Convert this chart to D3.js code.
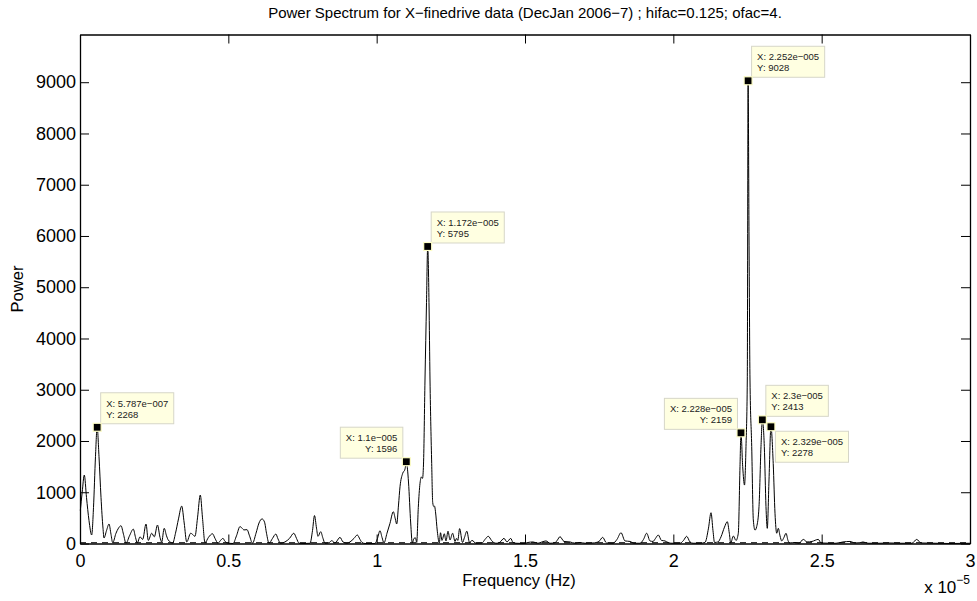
<!DOCTYPE html>
<html>
<head>
<meta charset="utf-8">
<script src="https://cdn.jsdelivr.net/npm/d3@7"></script>
<style>
  body { margin: 0; background: #fff; }
  text { font-family: "Liberation Sans", Arial, Helvetica, sans-serif; }
</style>
</head>
<body>
<svg id="chart" width="977" height="601"></svg>
<script>
// Lomb-Scargle power spectrum, frequency in units of 1e-5 Hz
const freqE5 = [
  0.001, 0.0074, 0.0145, 0.0219, 0.0303, 0.0394, 0.0455, 0.0522, 0.05787, 0.0640,
  0.0708, 0.0775, 0.0809, 0.0893, 0.0978, 0.1045, 0.1102, 0.1213, 0.1298, 0.1382,
  0.1466, 0.1551, 0.1669, 0.1797, 0.1871, 0.1931, 0.2022, 0.2113, 0.2225, 0.2302,
  0.2417, 0.2505, 0.2612, 0.2697, 0.2754, 0.2838, 0.2916, 0.2976, 0.3125, 0.3219,
  0.3320, 0.3428, 0.3512, 0.3597, 0.3731, 0.3809, 0.3876, 0.3961, 0.4055, 0.4129,
  0.4213, 0.4331, 0.4466, 0.4551, 0.4652, 0.4736, 0.4820, 0.4888, 0.4965, 0.5157,
  0.5275, 0.5393, 0.5461, 0.5528, 0.5629, 0.5714, 0.5815, 0.5933, 0.6034, 0.6135,
  0.6219, 0.6287, 0.6371, 0.6489, 0.6600, 0.6674, 0.6758, 0.6910, 0.7062, 0.7207,
  0.7298, 0.7382, 0.7551, 0.7753, 0.7837, 0.7904, 0.7972, 0.8022, 0.8113, 0.8191,
  0.8258, 0.8393, 0.8484, 0.8596, 0.8764, 0.8865, 0.9000, 0.9101, 0.9236, 0.9347,
  0.9438, 0.9506, 0.9607, 0.9944, 1.0028, 1.0112, 1.0180, 1.0247, 1.0348, 1.0449,
  1.0561, 1.0628, 1.0675, 1.0736, 1.0787, 1.0878, 1.0955, 1.1000, 1.1039, 1.1073,
  1.1147, 1.1201, 1.1258, 1.1309, 1.1350, 1.1403, 1.1461, 1.1511, 1.1545, 1.1579,
  1.1629, 1.1680, 1.1720, 1.1764, 1.1798, 1.1855, 1.1889, 1.1926, 1.1950, 1.1983,
  1.2044, 1.2111, 1.2152, 1.2202, 1.2280, 1.2337, 1.2405, 1.2472, 1.2560, 1.2641,
  1.2691, 1.2735, 1.2796, 1.2894, 1.2961, 1.3039, 1.3130, 1.3213, 1.3348, 1.3551,
  1.3652, 1.3763, 1.3871, 1.3955, 1.4056, 1.4157, 1.4292, 1.4393, 1.4518, 1.4595,
  1.4697, 1.4966, 1.5101, 1.5270, 1.5438, 1.5573, 1.5708, 1.5843, 1.6011, 1.6095,
  1.6180, 1.6315, 1.6517, 1.6686, 1.6854, 1.7022, 1.7292, 1.7494, 1.7619, 1.7747,
  1.7966, 1.8101, 1.8236, 1.8371, 1.8539, 1.8674, 1.8876, 1.8994, 1.9102, 1.9213,
  1.9315, 1.9399, 1.9493, 1.9601, 1.9719, 1.9837, 1.9955, 2.0225, 2.0343, 2.0450,
  2.0562, 2.0663, 2.0899, 2.1067, 2.1185, 2.1270, 2.1337, 2.1388, 2.1506, 2.1607,
  2.1725, 2.1819, 2.1887, 2.1934, 2.2022, 2.2113, 2.2190, 2.2247, 2.2280, 2.2338,
  2.2399, 2.2449, 2.2493, 2.2520, 2.2551, 2.2584, 2.2642, 2.2696, 2.2753, 2.2810,
  2.2888, 2.2955, 2.3000, 2.3067, 2.3123, 2.3167, 2.3225, 2.3290, 2.3367, 2.3427,
  2.3485, 2.3538, 2.3596, 2.3653, 2.3730, 2.3798, 2.3865, 2.3916, 2.4101, 2.4236,
  2.4381, 2.4506, 2.4674, 2.4887, 2.4978, 2.5281, 2.5483, 2.5719, 2.5955, 2.6124,
  2.6292, 2.6393, 2.6562, 2.6966, 2.7304, 2.7641, 2.8045, 2.8203, 2.8349, 2.8821,
  2.9326, 3.0000
];
const power = [
  640, 1000, 1336, 900, 450, 166, 700, 1700, 2268, 1700,
  900, 300, 107, 250, 380, 180, 15, 200, 300, 347,
  180, 5, 150, 280, 120, 10, 130, 80, 380, 60,
  200, 130, 360, 120, 30, 296, 150, 68, 10, 200,
  480, 730, 400, 30, 200, 170, 140, 500, 946, 500,
  15, 120, 190, 100, 5, 60, 100, 40, 10, 0,
  150, 330, 300, 265, 270, 150, 5, 200, 400, 480,
  420, 200, 5, 100, 185, 90, 5, 30, 100, 200,
  100, 5, 0, 5, 250, 545, 300, 140, 230, 100,
  5, 15, 55, 10, 120, 30, 5, 30, 100, 166,
  80, 20, 0, 0, 100, 250, 120, 10, 200, 394,
  620, 480, 380, 750, 1108, 1370, 1450, 1596, 1450, 1200,
  400, 10, 100, 110, 20, 700, 1174, 1300, 1270, 1550,
  3190, 4700, 5795, 4700, 3190, 1560, 800, 720, 730, 620,
  240, 10, 210, 60, 190, 50, 240, 70, 200, 40,
  100, 60, 290, 20, 120, 240, 20, 60, 5, 10,
  80, 140, 60, 15, 5, 25, 100, 30, 100, 20,
  5, 0, 20, 30, 5, 30, 50, 5, 15, 70,
  133, 40, 30, 5, 20, 5, 10, 40, 120, 10,
  5, 80, 210, 50, 40, 5, 5, 80, 200, 50,
  40, 100, 166, 60, 50, 15, 5, 5, 60, 140,
  30, 5, 5, 20, 300, 600, 250, 20, 30, 130,
  320, 425, 200, 10, 146, 60, 200, 1500, 2159, 1500,
  1140, 1890, 3190, 9028, 6000, 3190, 1890, 460, 260, 330,
  720, 1890, 2413, 1890, 720, 296, 1240, 2278, 1560, 590,
  200, 296, 150, 50, 120, 200, 60, 10, 20, 5,
  80, 30, 40, 80, 10, 5, 5, 30, 40, 10,
  15, 30, 5, 5, 10, 5, 5, 80, 10, 5,
  0, 5
];

// Axis ticks
const xTicks = [0, 0.5, 1, 1.5, 2, 2.5, 3];
const yTicks = [0, 1000, 2000, 3000, 4000, 5000, 6000, 7000, 8000, 9000];
const xDomain = [0, 3];
const yDomain = [0, 9931];
const baselineLevel = 15;

// Data cursors placed on the main peaks
const tipFreq  = [0.05787, 1.1, 1.172, 2.228, 2.252, 2.3, 2.329];
const tipPower = [2268, 1596, 5795, 2159, 9028, 2413, 2278];
const tipXText = ["5.787e\u2212007", "1.1e\u2212005", "1.172e\u2212005", "2.228e\u2212005",
                  "2.252e\u2212005", "2.3e\u2212005", "2.329e\u2212005"];
const tipSide  = ["ne", "nw", "ne", "nw", "ne", "ne", "se"];

const titleText = "Power Spectrum for X\u2212finedrive data (DecJan 2006\u22127) ; hifac=0.125; ofac=4.";

const svg = d3.select("#chart");
const L = 80, R = 970, T = 34.5, B = 543.5;
const x = d3.scaleLinear().domain(xDomain).range([L, R]);
const y = d3.scaleLinear().domain(yDomain).range([B, T]);
const tickFont = 18;

// spectrum line
const pts = freqE5.map((f, i) => [f, power[i]]);
svg.append("path").datum(pts)
  .attr("fill", "none").attr("stroke", "#000").attr("stroke-width", 1)
  .attr("stroke-linejoin", "round")
  .attr("d", d3.line().curve(d3.curveMonotoneX).x(d => x(d[0])).y(d => y(d[1])));

// dashed reference line along the floor
svg.append("line")
  .attr("x1", x(xDomain[0])).attr("x2", x(xDomain[1]))
  .attr("y1", y(baselineLevel)).attr("y2", y(baselineLevel))
  .attr("stroke", "#000").attr("stroke-width", 1).attr("stroke-dasharray", "6,5");

// axes (ticks point inward, box on)
const tickLen = 9;
const axB = svg.append("g").attr("transform", `translate(0,${B})`)
  .call(d3.axisBottom(x).tickValues(xTicks).tickSizeInner(-tickLen).tickSizeOuter(0)
    .tickPadding(11).tickFormat(d3.format("")));
const axT = svg.append("g").attr("transform", `translate(0,${T})`)
  .call(d3.axisTop(x).tickValues(xTicks).tickSizeInner(-tickLen).tickSizeOuter(0).tickFormat(""));
const axL = svg.append("g").attr("transform", `translate(${L},0)`)
  .call(d3.axisLeft(y).tickValues(yTicks).tickSizeInner(-tickLen).tickSizeOuter(0)
    .tickPadding(4).tickFormat(d3.format("")));
const axR = svg.append("g").attr("transform", `translate(${R},0)`)
  .call(d3.axisRight(y).tickValues(yTicks).tickSizeInner(-tickLen).tickSizeOuter(0).tickFormat(""));

[axB, axT, axL, axR].forEach(g => {
  g.selectAll(".domain").attr("stroke", "#000").attr("stroke-width", 1.3);
  g.selectAll(".tick line").attr("stroke", "#000").attr("stroke-width", 1);
  g.selectAll("text").attr("font-size", tickFont).attr("fill", "#000")
    .attr("font-family", "'Liberation Sans', Arial, sans-serif");
});
axB.selectAll(".tick text").attr("dy", "0.71em");

// exponent label
const expG = svg.append("text").attr("x", R).attr("y", 593).attr("text-anchor", "end")
  .attr("font-size", 17).attr("fill", "#000");
expG.append("tspan").text("x 10");
expG.append("tspan").attr("font-size", 12).attr("dy", -9).text("\u22125");

// titles
svg.append("text").attr("x", (L + R) / 2).attr("y", 18).attr("text-anchor", "middle")
  .attr("font-size", 15).attr("fill", "#000").text(titleText);
svg.append("text").attr("x", (L + R) / 2 - 6).attr("y", 586).attr("text-anchor", "middle")
  .attr("font-size", 16.5).attr("fill", "#000").text("Frequency (Hz)");
svg.append("text").attr("transform", `translate(23,${(T + B) / 2}) rotate(-90)`)
  .attr("text-anchor", "middle").attr("font-size", 16.5).attr("fill", "#000").text("Power");

// data cursors
const tipFont = 9.5, padX = 5.5, boxH = 31;
tipFreq.forEach((f, i) => {
  const sx = x(f), sy = y(tipPower[i]);
  const side = tipSide[i];
  const g = svg.append("g");
  const box = g.append("rect").attr("fill", "#ffffe1").attr("stroke", "#d6d6c8").attr("stroke-width", 1);
  const t1 = g.append("text").attr("font-size", tipFont).attr("fill", "#222").text("X: " + tipXText[i]);
  const t2 = g.append("text").attr("font-size", tipFont).attr("fill", "#222").text("Y: " + tipPower[i]);
  const w = Math.max(t1.node().getComputedTextLength(), t2.node().getComputedTextLength()) + 2 * padX;
  let bx, by;
  if (side === "ne") { bx = sx + 3.5; by = sy - 3.5 - boxH; }
  else if (side === "nw") { bx = sx - 3.5 - w; by = sy - 3.5 - boxH; }
  else { bx = sx + 4.5; by = sy + 4.5; }
  box.attr("x", bx).attr("y", by).attr("width", w).attr("height", boxH);
  if (side === "nw") {
    t1.attr("x", bx + w - padX).attr("text-anchor", "end");
    t2.attr("x", bx + w - padX).attr("text-anchor", "end");
  } else {
    t1.attr("x", bx + padX); t2.attr("x", bx + padX);
  }
  t1.attr("y", by + 14); t2.attr("y", by + 25);
  g.append("rect").attr("x", sx - 4).attr("y", sy - 4).attr("width", 8).attr("height", 8)
    .attr("fill", "#000").attr("stroke", "#ffffc8").attr("stroke-width", 1.2);
});
</script>
</body>
</html>
